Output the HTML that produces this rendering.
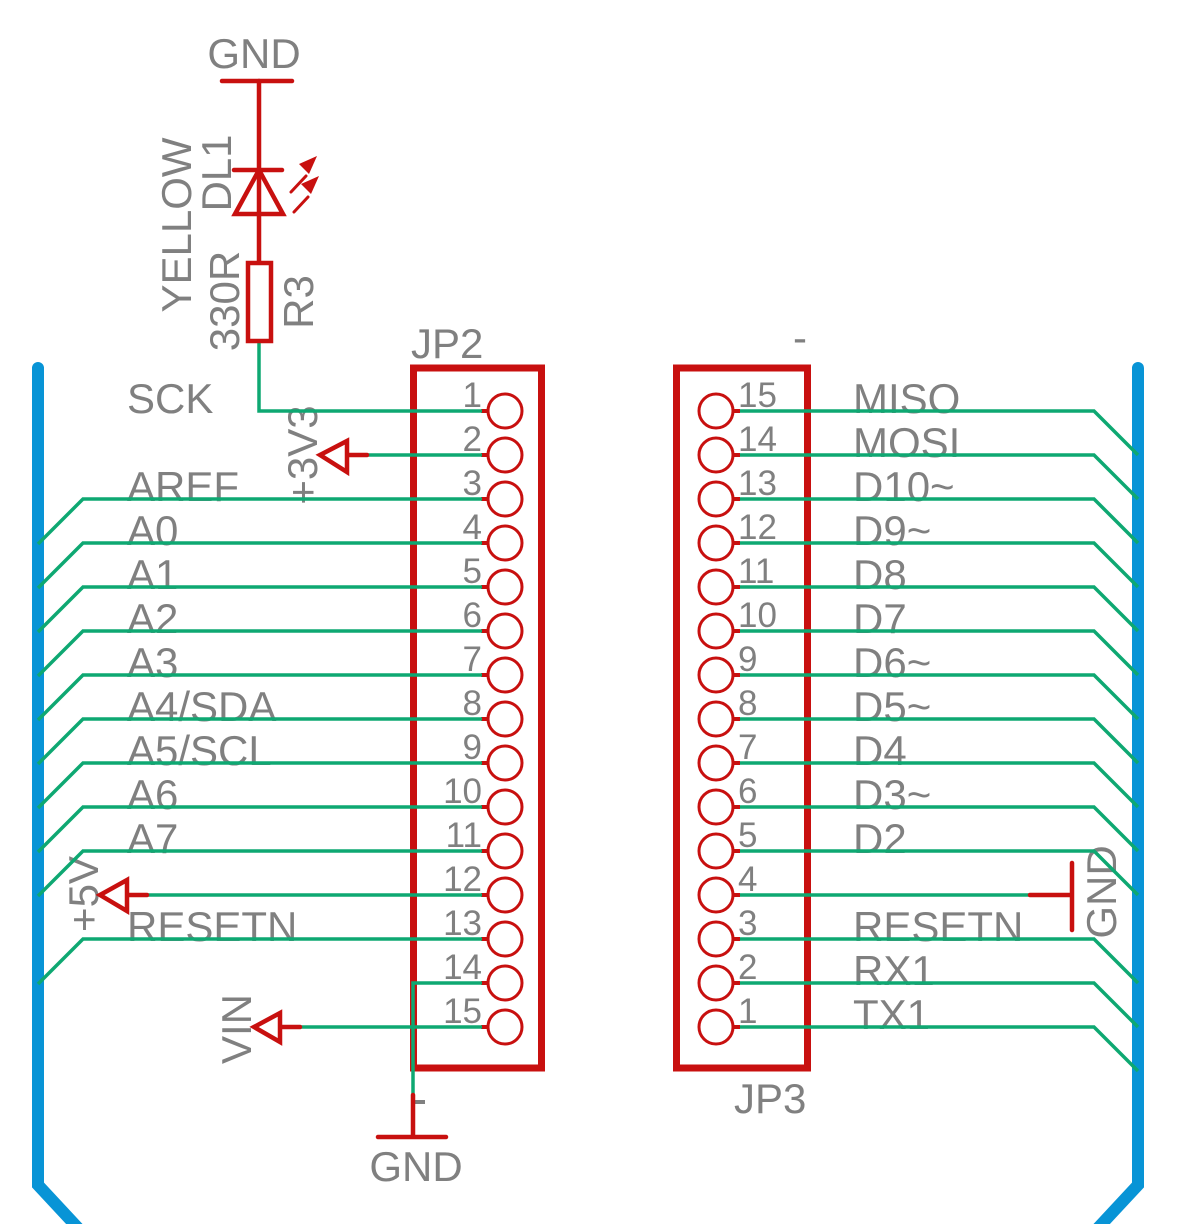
<!DOCTYPE html>
<html><head><meta charset="utf-8"><style>
html,body{margin:0;padding:0;background:#fff;}
svg{display:block;}
text{font-family:"Liberation Sans",sans-serif;fill:#808080;}
</style></head><body>
<svg width="1178" height="1224" viewBox="0 0 1178 1224" xmlns="http://www.w3.org/2000/svg">
<path d="M38,368 V1185 L78,1228" stroke="#0894d6" stroke-width="12" fill="none" stroke-linecap="round"/>
<path d="M1138,368 V1185 L1098,1228" stroke="#0894d6" stroke-width="12" fill="none" stroke-linecap="round"/>

<g font-size="42">
<text x="127" y="413">SCK</text>
<text x="127" y="501">AREF</text>
<text x="127" y="545">A0</text>
<text x="127" y="589">A1</text>
<text x="127" y="633">A2</text>
<text x="127" y="677">A3</text>
<text x="127" y="721">A4/SDA</text>
<text x="127" y="765">A5/SCL</text>
<text x="127" y="809">A6</text>
<text x="127" y="853">A7</text>
<text x="127" y="941">RESETN</text>
</g>
<g font-size="42">
<text x="853" y="413">MISO</text>
<text x="853" y="457">MOSI</text>
<text x="853" y="501">D10~</text>
<text x="853" y="545">D9~</text>
<text x="853" y="589">D8</text>
<text x="853" y="633">D7</text>
<text x="853" y="677">D6~</text>
<text x="853" y="721">D5~</text>
<text x="853" y="765">D4</text>
<text x="853" y="809">D3~</text>
<text x="853" y="853">D2</text>
<text x="853" y="941">RESETN</text>
<text x="853" y="985">RX1</text>
<text x="853" y="1029">TX1</text>
</g>

<g font-size="35" text-anchor="end">
<text x="482" y="407">1</text><text x="482" y="451">2</text><text x="482" y="495">3</text>
<text x="482" y="539">4</text><text x="482" y="583">5</text><text x="482" y="627">6</text>
<text x="482" y="671">7</text><text x="482" y="715">8</text><text x="482" y="759">9</text>
<text x="482" y="803">10</text><text x="482" y="847">11</text><text x="482" y="891">12</text>
<text x="482" y="935">13</text><text x="482" y="979">14</text><text x="482" y="1023">15</text>
</g>
<g font-size="35">
<text x="738" y="407">15</text><text x="738" y="451">14</text><text x="738" y="495">13</text>
<text x="738" y="539">12</text><text x="738" y="583">11</text><text x="738" y="627">10</text>
<text x="738" y="671">9</text><text x="738" y="715">8</text><text x="738" y="759">7</text>
<text x="738" y="803">6</text><text x="738" y="847">5</text><text x="738" y="891">4</text>
<text x="738" y="935">3</text><text x="738" y="979">2</text><text x="738" y="1023">1</text>
</g>

<g font-size="42">
<text x="254" y="68" text-anchor="middle">GND</text>
<text x="411" y="358">JP2</text>
<text x="734" y="1113">JP3</text>
<text x="416" y="1181" text-anchor="middle">GND</text>
<text x="800" y="352" text-anchor="middle">-</text>
<text transform="translate(191,225) rotate(-90)" text-anchor="middle">YELLOW</text>
<text transform="translate(231,173) rotate(-90)" text-anchor="middle">DL1</text>
<text transform="translate(239,301) rotate(-90)" text-anchor="middle">330R</text>
<text transform="translate(313,302) rotate(-90)" text-anchor="middle">R3</text>
<text transform="translate(317,455) rotate(-90)" text-anchor="middle">+3V3</text>
<text transform="translate(98,894) rotate(-90)" text-anchor="middle">+5V</text>
<text transform="translate(251,1029) rotate(-90)" text-anchor="middle">VIN</text>
<text transform="translate(1116,892) rotate(-90)" text-anchor="middle">GND</text>
</g>
<rect x="414" y="1100" width="11" height="4" fill="#808080"/>

<rect x="413.5" y="368" width="128" height="700" fill="none" stroke="#c8100f" stroke-width="7"/>
<rect x="676.5" y="368" width="131" height="700" fill="none" stroke="#c8100f" stroke-width="7"/>

<g fill="none" stroke="#c8100f" stroke-width="3">
<circle cx="505" cy="411" r="17"/><circle cx="505" cy="455" r="17"/><circle cx="505" cy="499" r="17"/>
<circle cx="505" cy="543" r="17"/><circle cx="505" cy="587" r="17"/><circle cx="505" cy="631" r="17"/>
<circle cx="505" cy="675" r="17"/><circle cx="505" cy="719" r="17"/><circle cx="505" cy="763" r="17"/>
<circle cx="505" cy="807" r="17"/><circle cx="505" cy="851" r="17"/><circle cx="505" cy="895" r="17"/>
<circle cx="505" cy="939" r="17"/><circle cx="505" cy="983" r="17"/><circle cx="505" cy="1027" r="17"/>
<circle cx="716" cy="411" r="17"/><circle cx="716" cy="455" r="17"/><circle cx="716" cy="499" r="17"/>
<circle cx="716" cy="543" r="17"/><circle cx="716" cy="587" r="17"/><circle cx="716" cy="631" r="17"/>
<circle cx="716" cy="675" r="17"/><circle cx="716" cy="719" r="17"/><circle cx="716" cy="763" r="17"/>
<circle cx="716" cy="807" r="17"/><circle cx="716" cy="851" r="17"/><circle cx="716" cy="895" r="17"/>
<circle cx="716" cy="939" r="17"/><circle cx="716" cy="983" r="17"/><circle cx="716" cy="1027" r="17"/>
</g>
<g stroke="#c8100f" stroke-width="4">
<path d="M481,411h7M481,455h7M481,499h7M481,543h7M481,587h7M481,631h7M481,675h7M481,719h7M481,763h7M481,807h7M481,851h7M481,895h7M481,939h7M481,983h7M481,1027h7"/>
<path d="M733,411h7M733,455h7M733,499h7M733,543h7M733,587h7M733,631h7M733,675h7M733,719h7M733,763h7M733,807h7M733,851h7M733,895h7M733,939h7M733,983h7M733,1027h7"/>
</g>

<g stroke="#0ea872" stroke-width="3.5" fill="none">
<path d="M259,343 V411 H482"/>
<path d="M367,455 H482"/>
<path d="M482,499 H83 L38,544"/>
<path d="M482,543 H83 L38,588"/>
<path d="M482,587 H83 L38,632"/>
<path d="M482,631 H83 L38,676"/>
<path d="M482,675 H83 L38,720"/>
<path d="M482,719 H83 L38,764"/>
<path d="M482,763 H83 L38,808"/>
<path d="M482,807 H83 L38,852"/>
<path d="M482,851 H83 L38,896"/>
<path d="M482,939 H83 L38,984"/>
<path d="M147,895 H482"/>
<path d="M300,1027 H482"/>
<path d="M482,983 H413 V1095"/>
<path d="M740,411 H1094 L1138,455"/>
<path d="M740,455 H1094 L1138,499"/>
<path d="M740,499 H1094 L1138,543"/>
<path d="M740,543 H1094 L1138,587"/>
<path d="M740,587 H1094 L1138,631"/>
<path d="M740,631 H1094 L1138,675"/>
<path d="M740,675 H1094 L1138,719"/>
<path d="M740,719 H1094 L1138,763"/>
<path d="M740,763 H1094 L1138,807"/>
<path d="M740,807 H1094 L1138,851"/>
<path d="M740,851 H1094 L1138,895"/>
<path d="M740,939 H1094 L1138,983"/>
<path d="M740,983 H1094 L1138,1027"/>
<path d="M740,1027 H1094 L1138,1071"/>
<path d="M740,895 H1030"/>
</g>

<g stroke="#c8100f" stroke-width="4.5" fill="none" stroke-linecap="round">
<path d="M222,81 H292"/>
<path d="M259,81 V262"/>
<path d="M234,170 H282"/>
<path d="M259,170 L235,214 H283 Z" stroke-linejoin="miter"/>
<rect x="248" y="263" width="23" height="78"/>
<path d="M320,455 L347,441 V472 Z M347,455 H367"/>
<path d="M100,895 L127,880 V911 Z M127,895 H147"/>
<path d="M254,1027 L280,1013 V1042 Z M280,1027 H300"/>
<path d="M413,1095 V1137 M378,1137 H446"/>
<path d="M1030,895 H1072 M1072,863 V930"/>
<path d="M291,192 L306,176 M294,212 L308,197" stroke-width="3"/>
</g>
<g fill="#c8100f">
<path d="M317,156 L299,164 L309,174 Z"/>
<path d="M319,176 L301,184 L311,194 Z"/>
</g>
</svg>
</body></html>
